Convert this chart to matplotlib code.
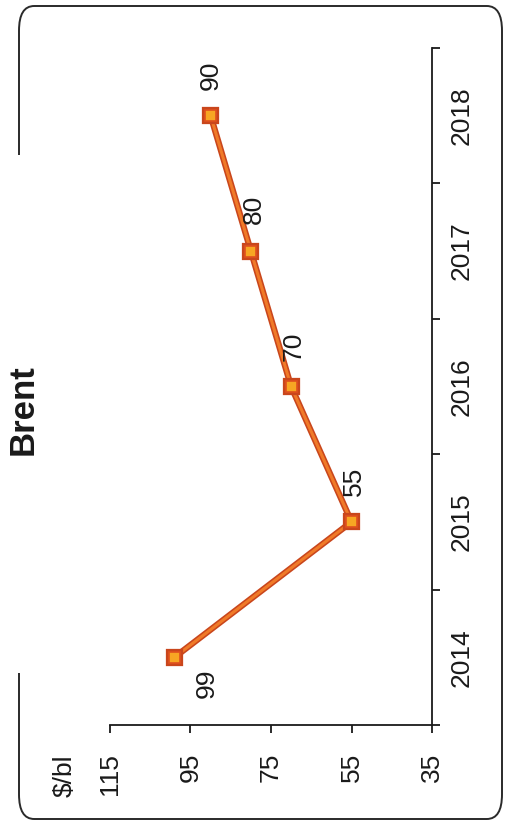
import matplotlib
matplotlib.use("Agg")
import matplotlib.pyplot as plt
import matplotlib.patheffects as pe
from matplotlib.patches import FancyBboxPatch, Rectangle

years = ["2014", "2015", "2016", "2017", "2018"]
prices = [99, 55, 70, 80, 90]
value_ticks = [115, 95, 75, 55, 35]
# label offsets in pixels (x right, y up) relative to each marker
label_offsets = [(32, -26), (2, 41), (2, 40), (3, 42), (0, 40)]

W, H = 505, 823
plt.rcParams['font.family'] = ['Liberation Sans', 'DejaVu Sans']
fig = plt.figure(figsize=(W / 100, H / 100), dpi=100)

# outer rounded frame
frame = FancyBboxPatch((19 / W, 1 - 819 / H), (502 - 19) / W, (819 - 6) / H,
                       boxstyle="round,pad=0,rounding_size=0.03",
                       transform=fig.transFigure, facecolor='none',
                       edgecolor='#2a2a2a', linewidth=1.4, zorder=0)
fig.patches.append(frame)
fig.patches.append(Rectangle((12 / W, 1 - 673 / H), 16 / W, (673 - 155) / H,
                             transform=fig.transFigure, facecolor='white',
                             edgecolor='none', zorder=0.5))

ax = fig.add_axes([110 / W, 1 - 725 / H, 322 / W, (725 - 48) / H])
ax.set_zorder(2)
ax.set_facecolor('none')

ypos = list(range(len(years)))
ax.plot(prices, ypos, color='#F07A28', lw=2.2, marker='s', markersize=8,
        markerfacecolor='#F7A623', markeredgecolor='#E0501E', markeredgewidth=1.2,
        path_effects=[pe.Stroke(linewidth=4.5, foreground='#C9461C'), pe.Normal()],
        zorder=3, clip_on=False)

for v, y, (dx, dy) in zip(prices, ypos, label_offsets):
    ax.annotate(str(v), (v, y), xytext=(dx, dy), textcoords='offset pixels',
                rotation=90, ha='center', va='center', fontsize=19, color='#1a1a1a')

ax.set_xlim(115, 35)
ax.set_ylim(-0.5, len(years) - 0.5)

for s in ['top', 'left']:
    ax.spines[s].set_visible(False)
for s in ['bottom', 'right']:
    ax.spines[s].set_color('#1a1a1a')
    ax.spines[s].set_linewidth(1.3)

ax.set_xticks(value_ticks)
ax.set_xticklabels([str(t) for t in value_ticks], rotation=90, fontsize=19, color='#1a1a1a')
ax.tick_params(axis='x', direction='out', length=6, width=1.3, pad=14, color='#1a1a1a')

ax.yaxis.tick_right()
ax.set_yticks([i - 0.5 for i in range(len(years) + 1)])
ax.set_yticklabels([])
ax.set_yticks(ypos, minor=True)
ax.set_yticklabels(years, minor=True, rotation=90, va='center', fontsize=19, color='#1a1a1a')
ax.tick_params(axis='y', which='major', direction='out', length=6, width=1.3, color='#1a1a1a',
               left=False, right=True)
ax.tick_params(axis='y', which='minor', length=0, pad=13, left=False, right=True,
               labelright=True, labelleft=False)

fig.text(23 / W, 1 - 410 / H, "Brent", rotation=90, fontsize=25, fontweight='bold',
         ha='center', va='center', color='#1a1a1a')
fig.text(65 / W, 1 - 776 / H, "$/bl", rotation=90, fontsize=19,
         ha='center', va='center', color='#1a1a1a')

fig.savefig("out.png", dpi=100)
